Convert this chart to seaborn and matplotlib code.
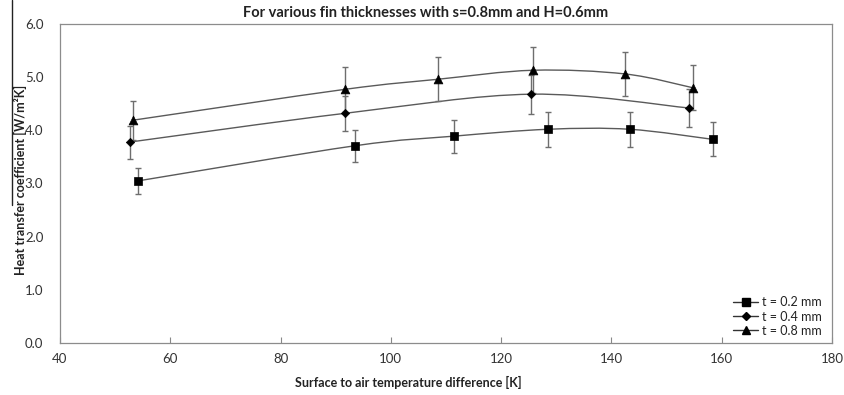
import numpy as np
import pandas as pd
import matplotlib
matplotlib.use("Agg")
import matplotlib.pyplot as plt
from matplotlib.path import Path
from matplotlib.patches import PathPatch
from matplotlib.lines import Line2D
import seaborn as sns

# ---- data ----
x_t02 = [54.2, 93.5, 111.4, 128.5, 143.3, 158.4]
h_t02 = [3.05, 3.71, 3.89, 4.02, 4.02, 3.83]
e_t02 = [0.25, 0.30, 0.31, 0.33, 0.33, 0.32]

x_t04 = [52.7, 91.7, 125.5, 154.1]
h_t04 = [3.78, 4.32, 4.68, 4.42]
e_t04 = [0.31, 0.33, 0.37, 0.35]

x_t08 = [53.2, 91.6, 108.5, 125.8, 142.5, 154.8]
h_t08 = [4.19, 4.77, 4.96, 5.13, 5.06, 4.80]
e_t08 = [0.37, 0.42, 0.41, 0.43, 0.41, 0.42]

series_labels = ["t = 0.2 mm", "t = 0.4 mm", "t = 0.8 mm"]
x_ticks = [40, 60, 80, 100, 120, 140, 160, 180]
y_ticks = [0.0, 1.0, 2.0, 3.0, 4.0, 5.0, 6.0]

title = "For various fin thicknesses with s=0.8mm and H=0.6mm"
xlabel = "Surface to air temperature difference [K]"
ylabel = "Heat transfer coefficient [W/m\u00b2K]"

sns.set_theme(style="white")
plt.rcParams["font.family"] = ["Lato", "DejaVu Sans"]

frames = []
for lab, xs, hs, es in zip(series_labels, [x_t02, x_t04, x_t08],
                           [h_t02, h_t04, h_t08], [e_t02, e_t04, e_t08]):
    frames.append(pd.DataFrame({"x": xs, "h": hs, "err": es, "series": lab}))
df = pd.concat(frames, ignore_index=True)

fig = plt.figure(figsize=(8.44, 3.95), dpi=100)
ax = fig.add_axes([60 / 844, (395 - 343) / 395, (832 - 60) / 844, (343 - 24) / 395])

markers = {"t = 0.2 mm": "s", "t = 0.4 mm": "D", "t = 0.8 mm": "^"}
msizes = {"t = 0.2 mm": 34, "t = 0.4 mm": 18, "t = 0.8 mm": 40}


def smooth_path(xs, ys):
    pts = np.column_stack([xs, ys]).astype(float)
    n = len(pts)
    verts = [pts[0]]
    codes = [Path.MOVETO]
    for i in range(n - 1):
        p0 = pts[i - 1] if i > 0 else pts[i]
        p1 = pts[i]
        p2 = pts[i + 1]
        p3 = pts[i + 2] if i + 2 < n else pts[i + 1]
        c1 = p1 + (p2 - p0) / 6.0
        c2 = p2 - (p3 - p1) / 6.0
        verts += [c1, c2, p2]
        codes += [Path.CURVE4] * 3
    return Path(verts, codes)


for lab in series_labels:
    d = df[df["series"] == lab]
    ax.add_patch(PathPatch(smooth_path(d["x"], d["h"]), fill=False,
                           edgecolor="#5a5a5a", lw=1.0, zorder=2))
    ax.errorbar(d["x"], d["h"], yerr=d["err"], fmt="none", ecolor="#6e6e6e",
                elinewidth=1.0, capsize=2, capthick=1.0, zorder=3)

for lab in series_labels:
    d = df[df["series"] == lab]
    sns.scatterplot(data=d, x="x", y="h", marker=markers[lab], s=msizes[lab],
                    color="black", edgecolor="black", linewidth=0.5,
                    ax=ax, zorder=4, legend=False)

ax.set_xlim(40, 180)
ax.set_ylim(0, 6)
ax.set_xticks(x_ticks)
ax.set_xticklabels([str(v) for v in x_ticks])
ax.set_yticks(y_ticks)
ax.set_yticklabels([f"{v:.1f}" for v in y_ticks])
ax.tick_params(axis="x", direction="in", length=4, width=0.8, color="#888888",
               labelsize=9.5, labelcolor="#333333", pad=7, bottom=True)
ax.tick_params(axis="y", length=0, labelsize=9.5, labelcolor="#333333", pad=12)
for s in ax.spines.values():
    s.set_color("#8c8c8c")
    s.set_linewidth(0.9)
    s.set_visible(True)

ax.set_xlabel("")
ax.set_ylabel("")
fig.text(408 / 844, 1 - 382 / 395, xlabel, ha="center", va="center",
         fontsize=9, fontweight="bold", color="#222222")
fig.text(20 / 844, 1 - 180 / 395, ylabel, ha="center", va="center",
         rotation=90, fontsize=9, fontweight="bold", color="#222222")
fig.text(426 / 844, 1 - 13 / 395, title, ha="center", va="center",
         fontsize=10.5, fontweight="bold", color="#222222")
# overline mark at the left edge (as in the reference)
fig.add_artist(Line2D([12 / 844, 12 / 844], [1.0, 1 - 205 / 395],
                      transform=fig.transFigure, color="#222222", lw=1.0))

handles = [Line2D([0], [0], color="#333333", lw=1.0, marker=markers[lab],
                  markersize={"s": 6, "D": 4.5, "^": 6}[markers[lab]],
                  markerfacecolor="black", markeredgecolor="black")
           for lab in series_labels]
leg = ax.legend(handles, series_labels, loc="lower right",
                bbox_to_anchor=(1.0, -0.012), frameon=False, fontsize=9,
                handlelength=2.0, handletextpad=0.3, labelspacing=0.18,
                borderpad=0.3)
for t in leg.get_texts():
    t.set_color("#222222")

fig.savefig("out.png", dpi=100, facecolor="white")
